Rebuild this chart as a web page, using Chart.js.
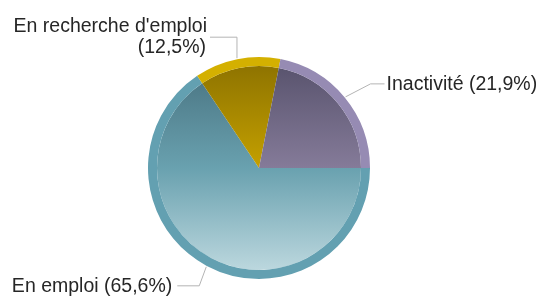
<!DOCTYPE html>
<html>
<head>
<meta charset="utf-8">
<script src="https://cdn.jsdelivr.net/npm/chart.js@4"></script>
<style>
    html, body { margin: 0; padding: 0; background: #fff; }
    #camembert { display: block; }
</style>
</head>
<body>
<canvas id="camembert" width="542" height="298"></canvas>
<script>
// ── Répartition de la population par situation ──────────────────────────────

const categories = ["En emploi", "En recherche d'emploi", "Inactivité"];
const parts = [65.6, 12.5, 21.9];

// couleurs : anneau extérieur, dégradé intérieur (haut → milieu → bas)
const couleursAnneau = ["#63a0b1", "#d4b000", "#968bb3"];
const degradeHaut = ["#466f7d", "#8a7000", "#55506a"];
const degradeMilieu = ["#69a1af", "#c4a000", "#857b99"];
const degradeBas = ["#c3dce2", "#d0a800", "#9a90ae"];

const police = "19.5px 'Liberation Sans', Arial, sans-serif";

function pct(v) {
    return "(" + v.toLocaleString("fr-FR", { minimumFractionDigits: 1 }) + "%)";
}

function degrade(ctx) {
    const area = ctx.chart.chartArea;
    const i = ctx.dataIndex;
    if (!area) return degradeMilieu[i];
    const g = ctx.chart.ctx.createLinearGradient(0, area.top, 0, area.bottom);
    g.addColorStop(0, degradeHaut[i]);
    g.addColorStop(0.5, degradeMilieu[i]);
    g.addColorStop(1, degradeBas[i]);
    return g;
}

// étiquettes extérieures avec lignes de rappel
const etiquettes = {
    id: "etiquettes",
    afterDraw(chart) {
        const ctx = chart.ctx;
        const arcs = chart.getDatasetMeta(0).data;
        ctx.save();
        ctx.font = police;
        ctx.fillStyle = "#262626";
        ctx.strokeStyle = "#b4b4b4";
        ctx.lineWidth = 1;

        arcs.forEach((arc, i) => {
            const p = arc.getProps(["x", "y", "startAngle", "endAngle", "outerRadius"], true);
            const a = (p.startAngle + p.endAngle) / 2;
            const sx = p.x + Math.cos(a) * (p.outerRadius + 1);
            const sy = p.y + Math.sin(a) * (p.outerRadius + 1);
            ctx.beginPath();
            ctx.moveTo(sx, sy);
            if (i === 0) {
                // en bas à gauche
                ctx.lineTo(sx - 7, sy + 19);
                ctx.lineTo(sx - 29, sy + 19);
                ctx.stroke();
                ctx.textAlign = "right";
                ctx.fillText(categories[i] + " " + pct(parts[i]), sx - 34, sy + 25);
            } else if (i === 1) {
                // en haut à gauche, sur deux lignes
                ctx.lineTo(sx, sy - 21);
                ctx.lineTo(sx - 27, sy - 21);
                ctx.stroke();
                ctx.textAlign = "right";
                ctx.fillText(categories[i], sx - 30, sy - 26);
                ctx.fillText(pct(parts[i]), sx - 31, sy - 5);
            } else {
                // à droite
                ctx.lineTo(sx + 25, sy - 13);
                ctx.lineTo(sx + 39, sy - 13);
                ctx.stroke();
                ctx.textAlign = "left";
                ctx.fillText(categories[i] + " " + pct(parts[i]), sx + 41, sy - 7);
            }
        });
        ctx.restore();
    },
};

new Chart(document.getElementById("camembert"), {
    type: "pie",
    data: {
        labels: categories,
        datasets: [
            {
                label: "anneau",
                data: parts,
                backgroundColor: couleursAnneau,
                borderWidth: 0,
                weight: 9,
            },
            {
                label: "Part",
                data: parts,
                backgroundColor: degrade,
                borderWidth: 0,
                weight: 102,
            },
        ],
    },
    options: {
        responsive: false,
        animation: false,
        rotation: 90,
        layout: { padding: { left: 148, right: 172, top: 57, bottom: 19 } },
        plugins: {
            legend: { display: false },
            tooltip: { enabled: false },
        },
    },
    plugins: [etiquettes],
});
</script>
</body>
</html>
